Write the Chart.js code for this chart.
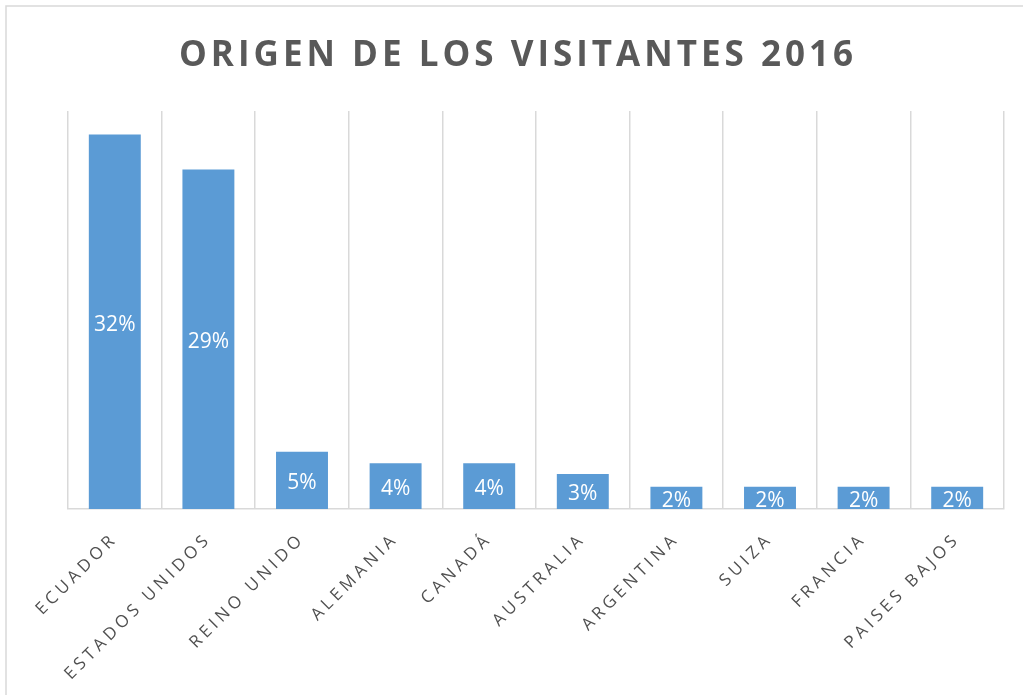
<!DOCTYPE html>
<html>
<head>
<meta charset="utf-8">
<script src="https://cdn.jsdelivr.net/npm/chart.js@4"></script>
<style>
  html, body { margin: 0; padding: 0; background: #fff; }
  #box { position: relative; width: 1023px; height: 695px; }
</style>
</head>
<body>
<div id="box"><canvas id="chart"></canvas></div>
<script>
const titleText = 'ORIGEN DE LOS VISITANTES 2016';
const countries = ['ECUADOR', 'ESTADOS UNIDOS', 'REINO UNIDO', 'ALEMANIA', 'CANADÁ',
  'AUSTRALIA', 'ARGENTINA', 'SUIZA', 'FRANCIA', 'PAISES BAJOS'];
const shares = [32.0, 29.0, 4.9, 3.9, 3.9, 3.0, 1.9, 1.9, 1.9, 1.9];
const yMax = 34;

const gridColor = '#d9d9d9';
const textColor = '#595959';
const barColor = '#5b9bd5';

// outer frame of the chart area + letter spacing for title / axis labels
const framePlugin = {
  id: 'frame',
  beforeDraw(chart) {
    const ctx = chart.ctx;
    ctx.save();
    ctx.strokeStyle = gridColor;
    ctx.lineWidth = 1.5;
    ctx.strokeRect(6, 6, 2000, 2000);
    ctx.restore();
    ctx.letterSpacing = '4px';
  }
};

// value labels in the middle of each bar
const barLabels = {
  id: 'barLabels',
  afterDatasetsDraw(chart) {
    const ctx = chart.ctx;
    const meta = chart.getDatasetMeta(0);
    ctx.save();
    ctx.letterSpacing = '0px';
    ctx.fillStyle = '#ffffff';
    ctx.font = '21px "Open Sans", sans-serif';
    ctx.textAlign = 'center';
    ctx.textBaseline = 'middle';
    meta.data.forEach((bar, i) => {
      const y = (bar.y + bar.base) / 2 + 3;
      ctx.fillText(Math.round(shares[i]) + '%', bar.x, y);
    });
    ctx.restore();
  }
};

new Chart(document.getElementById('chart'), {
  type: 'bar',
  data: {
    labels: countries,
    datasets: [{
      data: shares,
      backgroundColor: barColor,
      borderWidth: 0,
      barPercentage: 0.555,
      categoryPercentage: 1
    }]
  },
  options: {
    responsive: true,
    maintainAspectRatio: false,
    animation: false,
    layout: { padding: { left: 32, right: 19, top: 0, bottom: 0 } },
    plugins: {
      legend: { display: false },
      tooltip: { enabled: false },
      title: {
        display: true,
        text: titleText,
        color: textColor,
        font: { family: '"Open Sans", sans-serif', size: 35, weight: 'bold' },
        padding: { top: 35, bottom: 34 }
      }
    },
    scales: {
      x: {
        grid: { color: gridColor, lineWidth: 1.5, drawTicks: false },
        border: { color: gridColor, width: 1.5 },
        ticks: {
          autoSkip: false,
          minRotation: 45,
          maxRotation: 45,
          padding: 20,
          color: '#505050',
          font: { family: '"Open Sans", sans-serif', size: 17 }
        },
        afterFit(s) { s.height = 186; s.paddingLeft = 0; s.paddingRight = 0; }
      },
      y: {
        min: 0,
        max: yMax,
        grid: { display: false },
        border: { display: false },
        ticks: { display: false },
        afterFit(s) { s.width = 36; }
      }
    }
  },
  plugins: [framePlugin, barLabels]
});
</script>
</body>
</html>
